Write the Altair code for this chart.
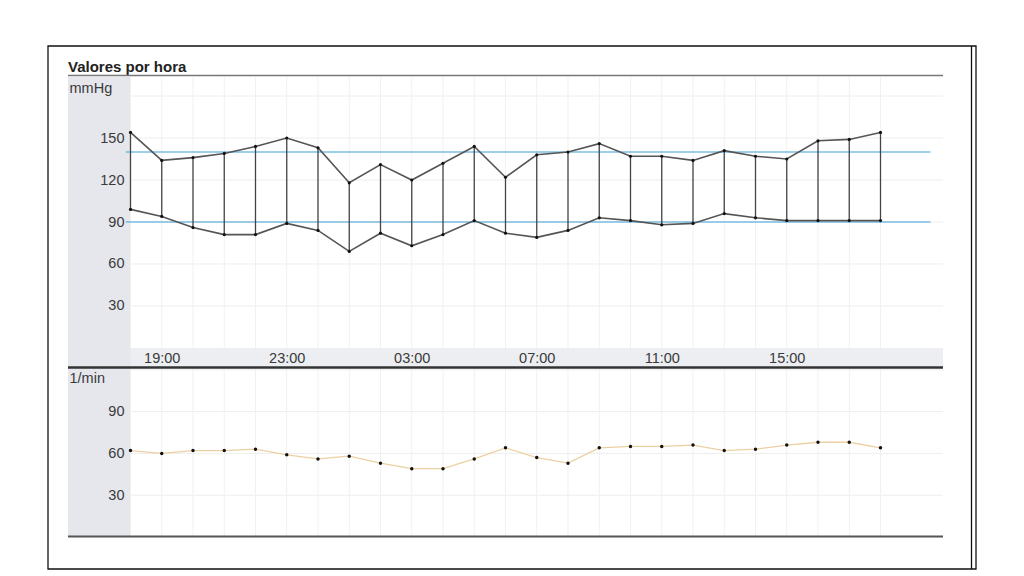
import altair as alt
import pandas as pd

# ---- data ----
times = [
    "2024-05-01T18:00", "2024-05-01T19:00", "2024-05-01T20:00", "2024-05-01T21:00",
    "2024-05-01T22:00", "2024-05-01T23:00", "2024-05-02T00:00", "2024-05-02T01:00",
    "2024-05-02T02:00", "2024-05-02T03:00", "2024-05-02T04:00", "2024-05-02T05:00",
    "2024-05-02T06:00", "2024-05-02T07:00", "2024-05-02T08:00", "2024-05-02T09:00",
    "2024-05-02T10:00", "2024-05-02T11:00", "2024-05-02T12:00", "2024-05-02T13:00",
    "2024-05-02T14:00", "2024-05-02T15:00", "2024-05-02T16:00", "2024-05-02T17:00",
    "2024-05-02T18:00",
]
systolic = [154, 134, 136, 139, 144, 150, 143, 118, 131, 120, 132, 144, 122,
            138, 140, 146, 137, 137, 134, 141, 137, 135, 148, 149, 154]
diastolic = [99, 94, 86, 81, 81, 89, 84, 69, 82, 73, 81, 91, 82,
             79, 84, 93, 91, 88, 89, 96, 93, 91, 91, 91, 91]
heart_rate = [62, 60, 62, 62, 63, 59, 56, 58, 53, 49, 49, 56, 64,
              57, 53, 64, 65, 65, 66, 62, 63, 66, 68, 68, 64]
thresholds = [140, 90]
bp_ticks = [30, 60, 90, 120, 150]
hr_ticks = [30, 60, 90]
tick_hours = [(1, 19), (1, 23), (2, 3), (2, 7), (2, 11), (2, 15)]

df = pd.DataFrame({"t": pd.to_datetime(times), "sys": systolic,
                   "dia": diastolic, "hr": heart_rate})

W, TOP_H, BOT_H = 875, 290, 170
FONT = "Liberation Sans"
LINE = "#555555"
BAND = "#e5e7ed"
BAND2 = "#eceef2"
TXT = "#3a3a3a"

def dt(d, h, m=0):
    return alt.DateTime(year=2024, month=5, date=d, hours=h, minutes=m)

xscale = alt.Scale(domain=[dt(1, 16), dt(2, 20)])
ytop = alt.Scale(domain=[-13.6, 193.6], nice=False, zero=False)
ybot = alt.Scale(domain=[0, 122], nice=False)

xaxis_top = alt.Axis(values=[dt(d, h) for d, h in tick_hours], format="%H:%M",
                     orient="bottom", offset=-18, domain=False, ticks=False,
                     grid=False, labelFontSize=14.5, labelColor=TXT,
                     labelFont=FONT, labelPadding=2, title=None, zindex=2)
yaxis_top = alt.Axis(values=bp_ticks, offset=-61, domain=False, ticks=False,
                     grid=False, labelFontSize=14.5,
                     labelColor=TXT, labelFont=FONT, labelPadding=5,
                     title="mmHg", titleAngle=0, titleAlign="left",
                     titleBaseline="top", titleX=-60, titleY=4,
                     titleFont=FONT, titleFontSize=14.5, titleFontWeight="normal",
                     titleColor=TXT, zindex=2)
yaxis_bot = alt.Axis(values=hr_ticks, offset=-61, domain=False, ticks=False,
                     grid=False, labelFontSize=14.5,
                     labelColor=TXT, labelFont=FONT, labelPadding=5,
                     title="1/min", titleAngle=0, titleAlign="left",
                     titleBaseline="top", titleX=-60, titleY=4,
                     titleFont=FONT, titleFontSize=14.5, titleFontWeight="normal",
                     titleColor=TXT, zindex=2)

one = pd.DataFrame({"a": [0]})
left_band = pd.DataFrame({"t0": pd.to_datetime(["2024-05-01T16:00"]),
                          "t1": pd.to_datetime(["2024-05-01T18:00"])})
bottom_band = pd.DataFrame({"t0": pd.to_datetime(["2024-05-01T16:00"]),
                            "t1": pd.to_datetime(["2024-05-02T20:00"]),
                            "y0": [-13.6], "y1": [0]})
thr_df = pd.DataFrame({"v": thresholds,
                       "t0": pd.to_datetime(["2024-05-01T17:51"] * 2),
                       "t1": pd.to_datetime(["2024-05-02T19:36"] * 2)})
grid_top = pd.DataFrame({"g": [30, 60, 90, 120, 150, 180]})
grid_bot = pd.DataFrame({"g": [30, 60, 90, 120]})

X = lambda f: alt.X(f, type="temporal", scale=xscale, axis=xaxis_top, title=None)
YT = lambda f: alt.Y(f, type="quantitative", scale=ytop, axis=yaxis_top, title=None)
YB = lambda f: alt.Y(f, type="quantitative", scale=ybot, axis=yaxis_bot, title=None)

# ---------------- top panel ----------------
t_hgrid = alt.Chart(grid_top).mark_rule(color="#eeeeee", strokeWidth=1).encode(
    y=YT("g"), x=alt.value(61), x2=alt.value(W))
t_bottom_band = alt.Chart(bottom_band).mark_rect(color=BAND2).encode(
    x=X("t0"), x2="t1", y=YT("y0"), y2="y1")
t_left_band = alt.Chart(left_band).mark_rect(color=BAND).encode(
    x=X("t0"), x2="t1", y=alt.value(0), y2=alt.value(TOP_H))
t_vgrid = alt.Chart(df).mark_rule(color="#f1f1f1", strokeWidth=1).encode(
    x=X("t"), y=alt.value(0), y2=alt.value(TOP_H - 19))
t_thr = alt.Chart(thr_df).mark_rule(color="#3c9fd8", strokeWidth=1.2).encode(
    x=X("t0"), x2="t1", y=YT("v"))
t_conn = alt.Chart(df).mark_rule(color="#444444", strokeWidth=1.3).encode(
    x=X("t"), y=YT("sys"), y2="dia")
t_sys = alt.Chart(df).mark_line(color=LINE, strokeWidth=1.6).encode(
    x=X("t"), y=YT("sys"))
t_dia = alt.Chart(df).mark_line(color=LINE, strokeWidth=1.6).encode(
    x=X("t"), y=YT("dia"))
t_psys = alt.Chart(df).mark_circle(color="#111111", size=10, opacity=1).encode(
    x=X("t"), y=YT("sys"))
t_pdia = alt.Chart(df).mark_circle(color="#111111", size=10, opacity=1).encode(
    x=X("t"), y=YT("dia"))

# decoration: frame, title, underline
frame = alt.Chart(one).mark_rect(fillOpacity=0, stroke="#111111", strokeWidth=1.3).encode(
    x=alt.value(-20), x2=alt.value(908), y=alt.value(-31), y2=alt.value(492))
frame2 = alt.Chart(one).mark_rule(color="#111111", strokeWidth=1.3).encode(
    x=alt.value(903.5), y=alt.value(-31), y2=alt.value(492))
title = alt.Chart(one).mark_text(text="Valores por hora", align="left",
                                 baseline="alphabetic", fontWeight="bold",
                                 fontSize=15, font=FONT, color="#222222").encode(
    x=alt.value(0), y=alt.value(-5))
underline = alt.Chart(one).mark_rule(color="#777777", strokeWidth=1.6).encode(
    x=alt.value(0), x2=alt.value(W), y=alt.value(-1.5))

top = alt.layer(t_hgrid, t_bottom_band, t_left_band, t_vgrid, t_thr, t_conn, t_sys,
                t_dia, t_psys, t_pdia, frame, frame2, title, underline).properties(
    width=W, height=TOP_H)

# ---------------- bottom panel ----------------
XB = lambda f: alt.X(f, type="temporal", scale=xscale, axis=None, title=None)
b_hgrid = alt.Chart(grid_bot).mark_rule(color="#eeeeee", strokeWidth=1).encode(
    y=YB("g"), x=alt.value(61), x2=alt.value(W))
b_left_band = alt.Chart(left_band).mark_rect(color=BAND).encode(
    x=XB("t0"), x2="t1", y=alt.value(0), y2=alt.value(BOT_H))
b_vgrid = alt.Chart(df).mark_rule(color="#f1f1f1", strokeWidth=1).encode(
    x=XB("t"), y=alt.value(0), y2=alt.value(BOT_H))
b_line = alt.Chart(df).mark_line(color="#ecd0a2", strokeWidth=1.3).encode(
    x=XB("t"), y=YB("hr"))
b_pts = alt.Chart(df).mark_circle(color="#111111", size=12, opacity=1).encode(
    x=XB("t"), y=YB("hr"))
sep = alt.Chart(one).mark_rule(color="#333333", strokeWidth=2.4).encode(
    x=alt.value(0), x2=alt.value(W), y=alt.value(0.5))
bottom_rule = alt.Chart(one).mark_rule(color="#555555", strokeWidth=2).encode(
    x=alt.value(0), x2=alt.value(W), y=alt.value(BOT_H - 0.5))

bottom = alt.layer(b_hgrid, b_left_band, b_vgrid, b_line, b_pts, sep,
                   bottom_rule).properties(width=W, height=BOT_H)

chart = alt.vconcat(top, bottom, spacing=0, bounds="flush").properties(
    padding={"left": 38, "top": 36, "right": 5, "bottom": 5},
    background="white",
).configure_view(stroke="transparent")

chart.save("out.html", embed_options={"renderer": "svg", "actions": False})
